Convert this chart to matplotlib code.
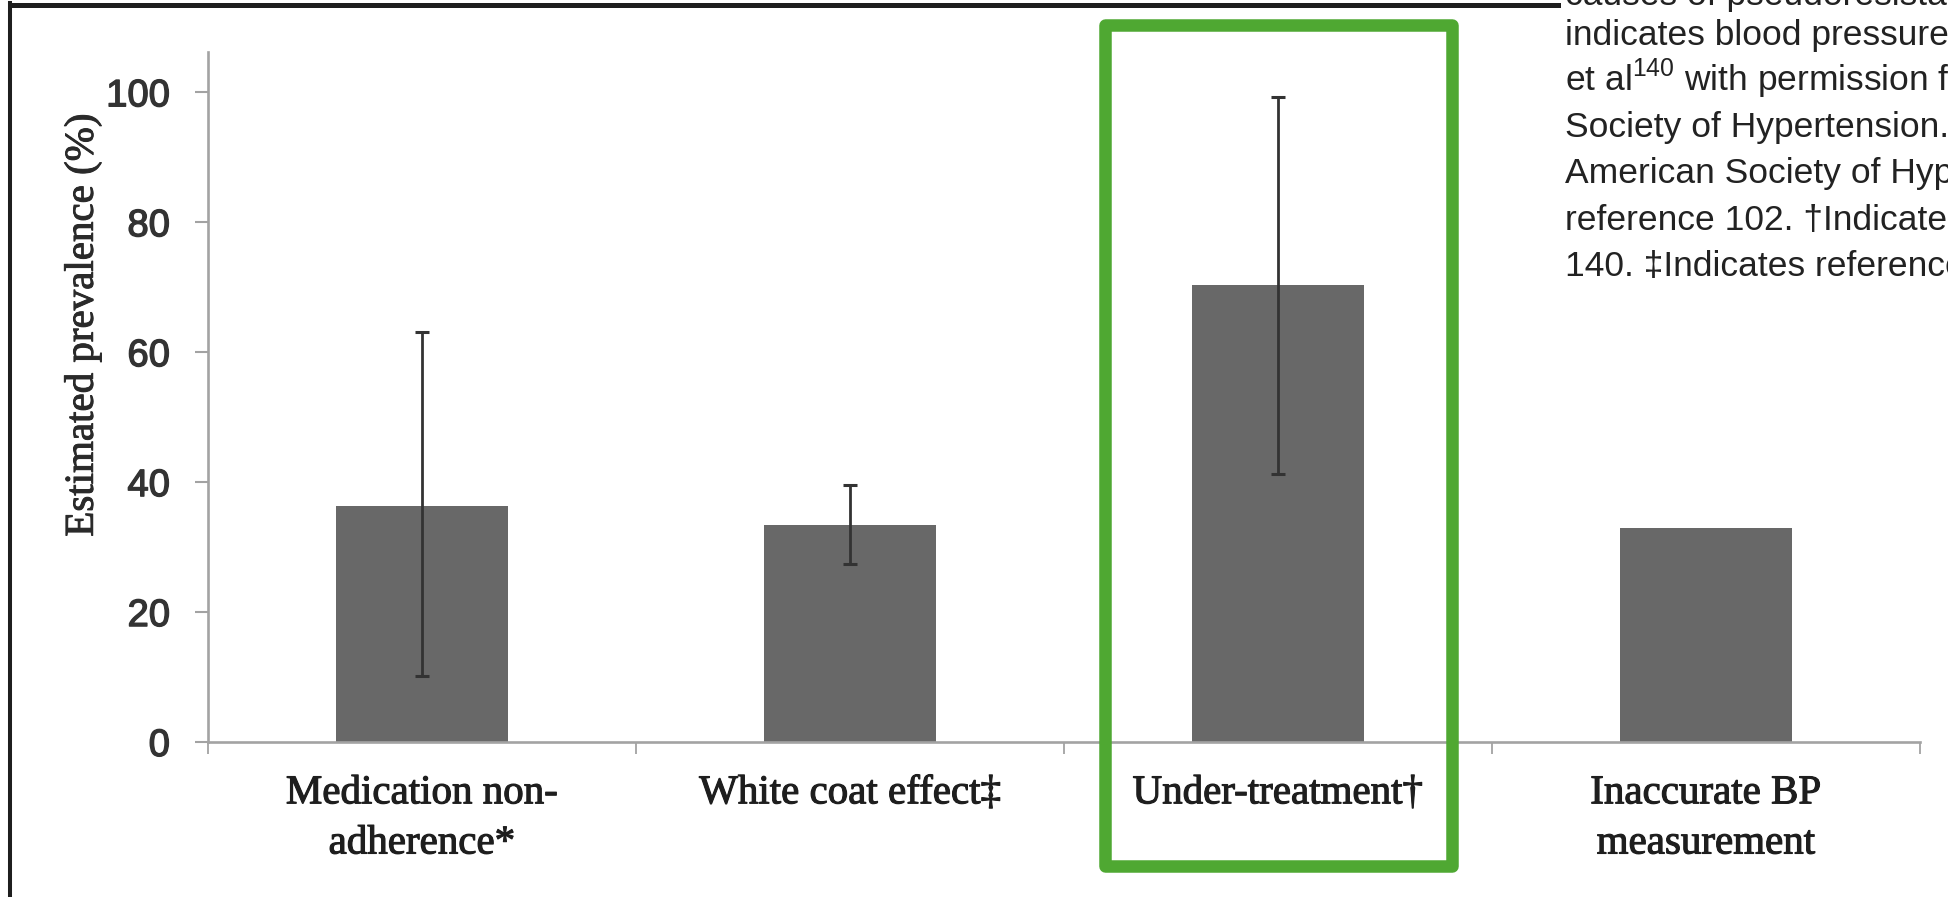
import numpy as np
import matplotlib
matplotlib.use('Agg')
import matplotlib.pyplot as plt
import matplotlib.patheffects as pe
from matplotlib.patches import Rectangle
from matplotlib.lines import Line2D

CATEGORIES = ['Medication non-\nadherence*', 'White coat effect\u2021',
              'Under-treatment\u2020', 'Inaccurate BP\nmeasurement']
PREVALENCE = [36.4, 33.4, 70.4, 33.0]
ERR_LOW = [10.2, 27.4, 41.3, None]
ERR_HIGH = [63.1, 39.6, 99.2, None]
Y_TICKS = [0, 20, 40, 60, 80, 100]

CAPTION_LINES = ['causes of pseudoresistance. BP',
                 'indicates blood pressure. Reprinted from Hwang',
                 r'et al$^{\mathregular{140}}$ with permission from the American',
                 'Society of Hypertension. Copyright \u00a9 2017,',
                 'American Society of Hypertension. *Indicates',
                 'reference 102. \u2020Indicates reference',
                 '140. \u2021Indicates reference 103.']

BAR_COLOR = '#686868'
AXIS_COLOR = '#a3a3a3'
GREEN = '#4fa832'

W, H = 1949, 897


def px_x(x):
    return x / W


def px_y(y):
    return 1 - y / H


def heavy(color, width=1.0):
    return [pe.withStroke(linewidth=width, foreground=color)]


fig = plt.figure(figsize=(W / 100, H / 100), dpi=100)
ax = fig.add_axes([px_x(208), px_y(742), 1712 / W, 690 / H])

x = np.arange(len(CATEGORIES))
ax.bar(x, PREVALENCE, width=0.4, color=BAR_COLOR, zorder=2)

err_idx = [i for i in range(len(CATEGORIES)) if ERR_LOW[i] is not None]
vals = np.array([PREVALENCE[i] for i in err_idx])
lo = np.array([ERR_LOW[i] for i in err_idx])
hi = np.array([ERR_HIGH[i] for i in err_idx])
ax.errorbar(x[err_idx], vals, yerr=[vals - lo, hi - vals], fmt='none',
            ecolor='#333333', elinewidth=2.0, capsize=5, capthick=2.2, zorder=3)

ax.set_xlim(-0.5, len(CATEGORIES) - 0.5)
ax.set_ylim(0, 106.2)

for side in ['top', 'right']:
    ax.spines[side].set_visible(False)
for side in ['left', 'bottom']:
    ax.spines[side].set_color(AXIS_COLOR)
    ax.spines[side].set_linewidth(1.9)

ax.set_yticks(Y_TICKS)
ax.set_yticklabels([str(t) for t in Y_TICKS], fontfamily='Liberation Sans',
                   fontsize=27.5, color='#333333')
for lab in ax.get_yticklabels():
    lab.set_path_effects(heavy('#333333', 1.0))
ax.tick_params(axis='y', length=9.4, width=1.5, color=AXIS_COLOR, pad=18)

ax.set_xticks(x)
ax.set_xticklabels(CATEGORIES, fontfamily='Liberation Serif', fontsize=29.5,
                   color='#1e1e1e', linespacing=1.47)
for lab in ax.get_xticklabels():
    lab.set_path_effects(heavy('#1e1e1e', 0.8))
ax.tick_params(axis='x', which='major', length=0, pad=24)
ax.set_xticks(np.arange(-0.5, len(CATEGORIES)), minor=True)
ax.tick_params(axis='x', which='minor', length=8.6, width=1.3, color=AXIS_COLOR)

ylab = fig.text(px_x(83), px_y(325), 'Estimated prevalence (%)', rotation=90,
                ha='center', va='center', fontfamily='Liberation Serif',
                fontsize=29.5, color='#2a2a2a')
ylab.set_path_effects(heavy('#2a2a2a', 0.7))

# page elements around the figure
fig.add_artist(Line2D([px_x(12), px_x(1558)], [px_y(5.5), px_y(5.5)],
                      color='#1e1e1e', linewidth=3.6))
fig.add_artist(Line2D([px_x(10), px_x(10)], [px_y(3.5), 0],
                      color='#1e1e1e', linewidth=2.9))
fig.add_artist(Rectangle((px_x(1105), px_y(865.5)), 347 / W, 840.5 / H,
                         transform=fig.transFigure, fill=False,
                         edgecolor=GREEN, linewidth=9, joinstyle='round'))

baselines = [5, 45, 91, 137, 183, 230, 276]
for line, base in zip(CAPTION_LINES, baselines):
    fig.text(px_x(1565), px_y(base), line, ha='left', va='baseline',
             fontfamily='Liberation Sans', fontsize=25.5, color='#222222')

fig.savefig('out.png', dpi=100)
